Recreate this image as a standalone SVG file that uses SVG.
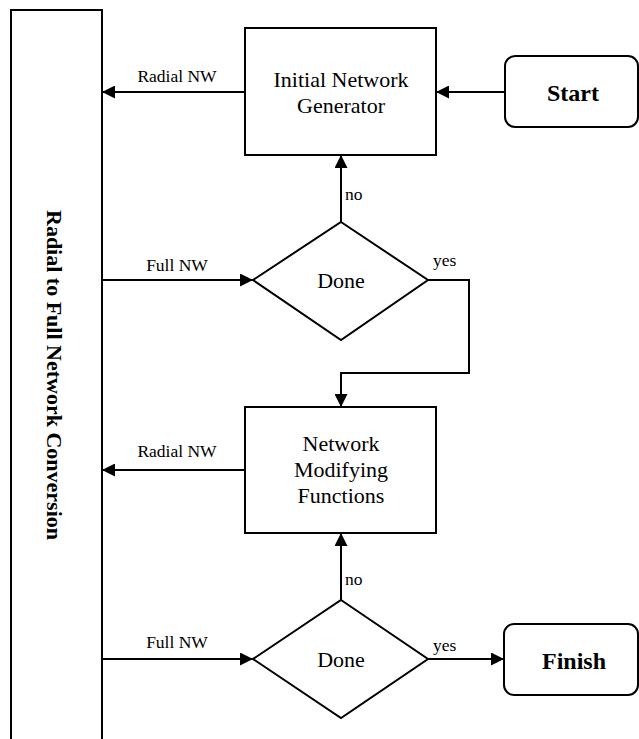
<svg xmlns="http://www.w3.org/2000/svg" width="639" height="739" viewBox="0 0 639 739">
  <style>
    .shape { fill: #ffffff; stroke: #000000; stroke-width: 2; }
    .line { fill: none; stroke: #000000; stroke-width: 2; }
    .txt { font-family: "Liberation Serif", "Times New Roman", serif; fill: #000000; }
    .box-label { font-size: 22px; text-anchor: middle; }
    .term-label { font-size: 24px; font-weight: bold; text-anchor: middle; }
    .edge-label { font-size: 17.5px; }
    .mid { text-anchor: middle; }
  </style>
  <defs>
    <marker id="arrow" markerUnits="userSpaceOnUse" markerWidth="13" markerHeight="13" refX="13" refY="6.5" orient="auto">
      <path d="M0,0 L13,6.5 L0,13 Z" fill="#000000"/>
    </marker>
  </defs>

  <rect width="639" height="739" fill="#ffffff"/>

  <!-- side converter column -->
  <g id="converter">
    <path class="shape" d="M11,745 L11,10 L102,10 L102,745"/>
    <text class="txt" font-size="22" font-weight="bold" text-anchor="middle" transform="translate(47,375) rotate(90)">Radial to Full Network Conversion</text>
  </g>

  <g id="start">
    <rect class="shape" x="505" y="56" width="133" height="71" rx="10" ry="10"/>
    <text class="txt term-label" x="573" y="101">Start</text>
  </g>

  <g id="generator">
    <rect class="shape" x="245" y="28" width="191" height="127"/>
    <text class="txt box-label" x="341" y="87">Initial Network</text>
    <text class="txt box-label" x="341" y="113">Generator</text>
  </g>

  <g id="done1">
    <polygon class="shape" points="341,222 428,280 341,340 253,280"/>
    <text class="txt box-label" x="341" y="288">Done</text>
  </g>

  <g id="modifier">
    <rect class="shape" x="245" y="407" width="191" height="126"/>
    <text class="txt box-label" x="341" y="451">Network</text>
    <text class="txt box-label" x="341" y="477">Modifying</text>
    <text class="txt box-label" x="341" y="503">Functions</text>
  </g>

  <g id="done2">
    <polygon class="shape" points="341,600 428,659 341,718 253,659"/>
    <text class="txt box-label" x="341" y="667">Done</text>
  </g>

  <g id="finish">
    <rect class="shape" x="504" y="624" width="134" height="71" rx="10" ry="10"/>
    <text class="txt term-label" x="574" y="669">Finish</text>
  </g>

  <g id="connectors">
    <path class="line" d="M505,92 L436,92" marker-end="url(#arrow)"/>
    <path class="line" d="M245,92 L102,92" marker-end="url(#arrow)"/>
    <path class="line" d="M341,222 L341,155" marker-end="url(#arrow)"/>
    <path class="line" d="M102,280 L253,280" marker-end="url(#arrow)"/>
    <path class="line" d="M428,280 L469,280 L469,373 L341,373 L341,407" marker-end="url(#arrow)"/>
    <path class="line" d="M245,470 L102,470" marker-end="url(#arrow)"/>
    <path class="line" d="M341,600 L341,533" marker-end="url(#arrow)"/>
    <path class="line" d="M102,659 L253,659" marker-end="url(#arrow)"/>
    <path class="line" d="M428,659 L504,659" marker-end="url(#arrow)"/>

    <text class="txt edge-label mid" x="177" y="82">Radial NW</text>
    <text class="txt edge-label" x="345" y="200">no</text>
    <text class="txt edge-label mid" x="177" y="271">Full NW</text>
    <text class="txt edge-label" x="433" y="266">yes</text>
    <text class="txt edge-label mid" x="177" y="457">Radial NW</text>
    <text class="txt edge-label" x="345" y="585">no</text>
    <text class="txt edge-label mid" x="177" y="648">Full NW</text>
    <text class="txt edge-label" x="433" y="651">yes</text>
  </g>
</svg>
